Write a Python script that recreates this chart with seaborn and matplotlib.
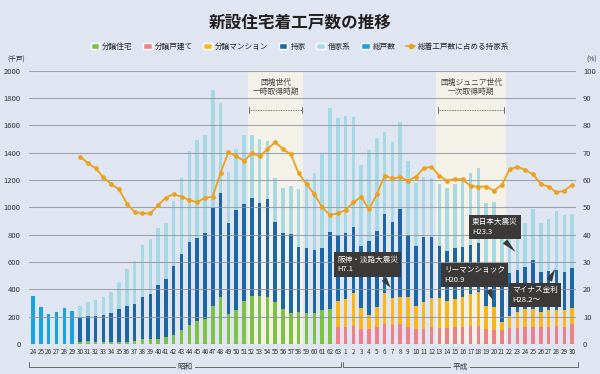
import matplotlib
matplotlib.use("Agg")
import matplotlib.pyplot as plt
from matplotlib.lines import Line2D
from matplotlib.patches import Patch
import numpy as np
import pandas as pd
import seaborn as sns

sns.set_theme(style="white")
plt.rcParams["font.family"] = ["Noto Sans CJK JP", "DejaVu Sans"]

# --- data (千戸) ---
showa = list(range(24, 64))
heisei = list(range(1, 31))
keys = [f"S{y}" for y in showa] + [f"H{y}" for y in heisei]
tick_labels = [str(y) for y in showa] + [str(y) for y in heisei]

# S24-S29: only the total is shown
sou_kosu = [351, 273, 220, 237, 261, 244]

# S30-S62
bunjo_jutaku = [17, 24, 17, 17, 17, 17, 17, 22, 34, 39, 39, 54, 68, 102, 139, 168,
                181, 280, 346, 217, 249, 317, 351, 351, 344, 310, 256, 224, 236, 224,
                224, 249, 256]

# S63-H30
bunjo_kodate = [127, 127, 132, 110, 107, 127, 144, 139, 146, 127, 107, 110, 127, 115,
                115, 122, 127, 134, 134, 107, 102, 102, 115, 115, 127, 127, 127, 127,
                132, 127, 146]
bunjo_mansion = [188, 200, 244, 156, 105, 143, 227, 200, 200, 214, 171, 195, 212, 224,
                 200, 205, 219, 229, 249, 173, 166, 59, 92, 122, 127, 129, 105, 122,
                 117, 122, 120]

# S30-H30
mochiie = [176, 179, 190, 195, 207, 242, 264, 271, 312, 329, 393, 422, 505, 554, 610,
           605, 633, 717, 761, 666, 731, 707, 720, 678, 717, 583, 558, 578, 471, 481,
           464, 451, 561,
           485, 483, 478, 451, 542, 557, 583, 551, 639, 457, 439, 480, 444, 381, 363,
           375, 366, 359, 354, 316, 314, 299, 315, 304, 312, 359, 292, 288, 292, 280,
           288]
shakuya = [85, 102, 115, 134, 159, 197, 266, 315, 376, 398, 415, 407, 474, 562, 664,
           720, 715, 862, 659, 378, 444, 505, 458, 469, 427, 322, 330, 354, 427, 500,
           561, 700, 912,
           856, 858, 805, 593, 666, 678, 600, 590, 642, 541, 459, 439, 429, 451, 466,
           469, 483, 527, 548, 438, 455, 330, 278, 281, 322, 370, 359, 378, 432, 415,
           397]

# 総着工戸数に占める持家系 (%), S30-H30
mochiie_share = [68.6, 66.2, 64.3, 61.0, 58.5, 56.6, 51.4, 48.3, 47.8, 47.8, 50.8, 53.6,
                 54.8, 53.9, 52.7, 51.9, 53.5, 53.9, 62.7, 70.1, 68.8, 67.0, 69.8, 68.7,
                 71.3, 73.9, 71.3, 69.4, 62.4, 58.4, 54.9, 50.0, 47.3,
                 47.8, 49.1, 51.8, 53.9, 49.3, 54.8, 61.6, 60.6, 61.0, 59.8, 61.2, 64.3,
                 64.9, 61.6, 59.8, 60.4, 60.2, 57.8, 57.6, 57.6, 56.1, 58.2, 63.9, 64.9,
                 63.7, 62.1, 58.5, 57.6, 55.5, 56.1, 58.2]

BG = "#dfe6f2"
C_GREEN = "#7dc243"
C_PINK = "#ef7f88"
C_YELLOW = "#fbb619"
C_DARK = "#1c68a6"
C_LIGHT = "#a7d9e5"
C_TOTAL = "#18a3dc"
C_LINE = "#eba21a"
C_BOX = "#3b3a39"

# --- cumulative tops for overlapping bars ---
nan = np.nan
n_early, n_mid, n_late = len(sou_kosu), len(bunjo_jutaku), len(bunjo_kodate)
green = [nan] * n_early + bunjo_jutaku + [nan] * n_late
pink = [nan] * (n_early + n_mid) + bunjo_kodate
yellow_top = [nan] * (n_early + n_mid) + [p + m for p, m in zip(bunjo_kodate, bunjo_mansion)]
lower = np.array(bunjo_jutaku + [p + m for p, m in zip(bunjo_kodate, bunjo_mansion)], float)
dark_top = lower + np.array(mochiie)
total = dark_top + np.array(shakuya)

df = pd.DataFrame({
    "key": keys,
    "sou": sou_kosu + [nan] * (n_mid + n_late),
    "total": [nan] * n_early + list(total),
    "dark": [nan] * n_early + list(dark_top),
    "yellow": yellow_top,
    "green": green,
    "pink": pink,
})

fig = plt.figure(figsize=(6, 3.74), dpi=100)
fig.patch.set_facecolor(BG)
ax = fig.add_axes([0.048, 0.080, 0.912, 0.731])
ax.set_facecolor(BG)

# shaded periods
ax.axvspan(27.5, 34.6, color="#f3f1e8", zorder=0, lw=0)
ax.axvspan(51.6, 60.5, color="#f3f1e8", zorder=0, lw=0)

for col, c in [("total", C_LIGHT), ("sou", C_TOTAL), ("dark", C_DARK),
               ("yellow", C_YELLOW), ("green", C_GREEN), ("pink", C_PINK)]:
    sns.barplot(data=df, x="key", y=col, order=keys, color=c, saturation=1,
                width=0.45, errorbar=None, linewidth=0, ax=ax, zorder=2)

for v in range(0, 2001, 200):
    ax.axhline(v, color="#8e949c", lw=0.8, zorder=2.5, alpha=0.8)

ax.set_ylim(0, 2000)
ax.set_yticks(range(0, 2001, 200))
ax.set_xticks(range(len(keys)))
ax.set_xticklabels(tick_labels)
ax.tick_params(axis="x", labelsize=4.6, length=0, pad=3, colors="#333333")
ax.tick_params(axis="y", labelsize=5.5, length=0, pad=6, colors="#333333")
ax.set_xlabel(""); ax.set_ylabel("")
for s in ax.spines.values():
    s.set_visible(False)

ax2 = ax.twinx()
sns.lineplot(x=np.arange(n_early, len(keys)), y=mochiie_share, ax=ax2, color=C_LINE,
             marker="o", markersize=3.4, markeredgewidth=0, linewidth=1.3)
ax2.set_ylim(0, 100)
ax2.set_yticks(range(0, 101, 10))
ax2.tick_params(axis="y", labelsize=5.5, length=0, pad=5, colors="#333333")
ax2.set_ylabel("")
for s in ax2.spines.values():
    s.set_visible(False)
ax.set_xlim(-0.55, 69.5)

# period labels
for xc, txt in [(31.05, "団塊世代\n一時取得時期"), (56.05, "団塊ジュニア世代\n一次取得時期")]:
    ax.text(xc, 1880, txt, ha="center", va="center", fontsize=5.6, color="#444444",
            linespacing=1.25, zorder=5)
for x0, x1 in [(27.7, 34.4), (51.8, 60.3)]:
    ax.plot([x0, x1], [1712, 1712], ls=(0, (1, 1)), color="#555555", lw=0.6, zorder=5)
    for xe in (x0, x1):
        ax.plot([xe, xe], [1690, 1735], color="#555555", lw=0.6, zorder=5)

# callouts
callouts = [
    ("阪神・淡路大震災\nH7.1", (38.9, 582), (46, 395), (0.7, 0)),
    ("リーマンショック\nH20.9", (52.6, 505), (59, 300), (0.7, 0)),
    ("東日本大震災\nH23.3", (56.2, 856), (62, 660), (0.6, 0)),
    ("マイナス金利\nH28.2～", (61.3, 358), (67, 570), (0.75, 1)),
]
for txt, xyt, xy, rp in callouts:
    ax.annotate(txt, xy=xy, xytext=xyt, ha="left", va="center", fontsize=5.5,
                color="white", linespacing=1.3, zorder=6,
                bbox=dict(boxstyle="square,pad=0.45", fc=C_BOX, ec="none"),
                arrowprops=dict(arrowstyle="wedge,tail_width=0.8,shrink_factor=0.5",
                                fc=C_BOX, ec="none", relpos=rp))

# era brackets under the axis
trans = ax.get_xaxis_transform()
for x0, x1, label, xl in [(-0.5, 39.4, "昭和", 19.5), (39.7, 69.8, "平成", 54.7)]:
    ax.plot([x0, x0, x1, x1], [-0.064, -0.084, -0.084, -0.064], transform=trans,
            clip_on=False, color="#555555", lw=0.6)
    ax.text(xl, -0.084, label, transform=trans, ha="center", va="center", fontsize=5.5,
            color="#333333", bbox=dict(fc=BG, ec="none", pad=1.5))

fig.text(0.013, 1 - 60 / 374, "(千戸)", fontsize=4.8, color="#333333", va="center")
fig.text(0.978, 1 - 60 / 374, "(%)", fontsize=4.8, color="#333333", va="center")

fig.text(0.5, 1 - 22 / 374, "新設住宅着工戸数の推移", ha="center", va="center",
         fontsize=12, fontweight="bold", color="#231f20")

handles = [Patch(fc=C_GREEN), Patch(fc=C_PINK), Patch(fc=C_YELLOW), Patch(fc=C_DARK),
           Patch(fc=C_LIGHT), Patch(fc=C_TOTAL),
           Line2D([], [], color=C_LINE, marker="o", markersize=3, lw=1.3)]
labels = ["分譲住宅", "分譲戸建て", "分譲マンション", "持家", "借家系", "総戸数",
          "総着工戸数に占める持家系"]
fig.legend(handles, labels, loc="center", bbox_to_anchor=(0.5, 1 - 47 / 374), ncol=7,
           frameon=False, fontsize=5.5, handlelength=1.1, handleheight=0.8,
           handletextpad=0.4, columnspacing=1.4)

fig.savefig("out.png", dpi=100, facecolor=BG)
